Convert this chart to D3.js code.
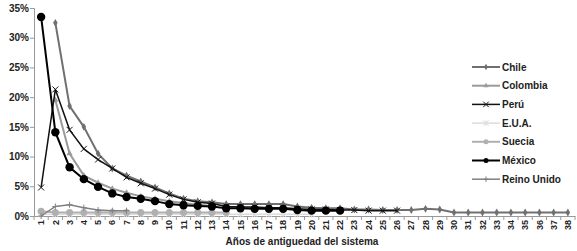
<!DOCTYPE html>
<html>
<head>
<meta charset="utf-8">
<script src="https://cdn.jsdelivr.net/npm/d3@7"></script>
<style>
body { margin: 0; background: #fff; }
text { font-family: Arial, "Liberation Sans", sans-serif; font-weight: bold; }
</style>
</head>
<body>
<script>
var svgWidth = 577;
var svgHeight = 251;

// categorie asse x
var years = d3.range(1, 39);
var yTicks = [0, 5, 10, 15, 20, 25, 30, 35];

// serie (valori in %, indice 0 = anno 1; null = nessun dato)
var chile = [null, 32.5, 18.5, 15.0, 10.5, 8.0, 6.8, 5.8, 4.8, 3.8, 2.9, 2.5, 2.3, 2.0, 2.0, 2.0, 2.0, 2.0, 1.6, 1.4,
  1.3, 1.3, 1.1, 1.1, 1.0, 1.0, 1.0, 1.2, 1.1, 0.6, 0.6, 0.6, 0.6, 0.6, 0.6, 0.6, 0.6, 0.6];
var colombia = [null, 19.5, 10.5, 6.8, 5.6, 4.6, 3.9, 3.3, 2.9, 2.5, 2.2, 1.9, 1.7];
var peru = [4.8, 21.3, 14.5, 11.3, 9.5, 8.0, 6.5, 5.5, 4.6, 3.6, 2.8, 2.3, 2.1, 1.6, 1.5, 1.5, 1.4, 1.4, 1.2, 1.1,
  1.1, 1.0, 1.0, 0.9, 0.9, 0.9];
var eua = [0.3, 0.3, 0.3, 0.3, 0.3, 0.3, 0.3, 0.3, 0.3, 0.3, 0.3, 0.3, 0.3, 0.3, 0.3, 0.3, 0.3, 0.3, 0.3, 0.3];
var suecia = [0.8, 0.6, 0.6, 0.6, 0.6, 0.6, 0.6, 0.6, 0.6, 0.6, 0.6, 0.6, 0.6, 0.6];
var mexico = [33.5, 14.1, 8.2, 6.2, 4.9, 3.8, 3.2, 2.9, 2.5, 2.0, 1.8, 1.7, 1.6, 1.3, 1.3, 1.2, 1.2, 1.2, 1.0, 0.9,
  0.9, 0.9];
var reinoUnido = [0, 1.6, 1.9, 1.4, 1.0, 0.9, 0.9];

var seriesNames = ["Chile", "Colombia", "Perú", "E.U.A.", "Suecia", "México", "Reino Unido"];
var seriesValues = [chile, colombia, peru, eua, suecia, mexico, reinoUnido];

// stili
var styles = [
  { color: "#707070", width: 2, marker: "diamond", size: 18 },
  { color: "#9a9a9a", width: 2, marker: "triangle", size: 16 },
  { color: "#111111", width: 1.5, marker: "x", size: 4 },
  { color: "#dcdcdc", width: 1.5, marker: "asterisk", size: 4 },
  { color: "#b0b0b0", width: 2, marker: "circle", size: 3.5 },
  { color: "#000000", width: 2, marker: "circle", size: 4.2 },
  { color: "#808080", width: 1.5, marker: "plus", size: 4 }
];

var svg = d3.select("body").append("svg").attr("width", svgWidth).attr("height", svgHeight);

var x = d3.scaleBand().domain(years).range([34, 575]);
var y = d3.scaleLinear().domain([0, 35]).range([216, 8]);

function cx(i) { return x(years[i]) + x.bandwidth() / 2; }

// asse y
var yAxis = svg.append("g").attr("transform", "translate(34,0)")
  .call(d3.axisLeft(y).tickValues(yTicks).tickSize(4).tickFormat(function(d) { return d + "%"; }));
yAxis.select(".domain").attr("stroke", "#999");
yAxis.selectAll(".tick line").attr("stroke", "#999");
yAxis.selectAll(".tick text").attr("font-size", 10).attr("fill", "#222").attr("x", -5);

// asse x
var xAxis = svg.append("g").attr("transform", "translate(0,216)")
  .call(d3.axisBottom(x).tickSize(0).tickSizeOuter(0));
xAxis.select(".domain").attr("stroke", "#999");
xAxis.selectAll(".tick text")
  .attr("font-size", 9).attr("fill", "#222")
  .attr("transform", "rotate(-90)")
  .attr("text-anchor", "end")
  .attr("x", -4).attr("y", 0).attr("dy", "0.35em");
xAxis.selectAll(".sep").data(years.concat([39])).join("line")
  .attr("class", "sep")
  .attr("x1", function(d) { return d === 39 ? 575 : x(d); })
  .attr("x2", function(d) { return d === 39 ? 575 : x(d); })
  .attr("y1", 0).attr("y2", 4)
  .attr("stroke", "#999");

svg.append("text")
  .attr("x", 302).attr("y", 245)
  .attr("text-anchor", "middle")
  .attr("font-size", 10).attr("fill", "#222")
  .text("Años de antiguedad del sistema");

function drawMarker(g, st, px, py) {
  if (st.marker === "circle") {
    g.append("circle").attr("cx", px).attr("cy", py).attr("r", st.size).attr("fill", st.color);
  } else if (st.marker === "diamond") {
    g.append("path").attr("d", d3.symbol(d3.symbolDiamond, st.size)()).attr("transform", "translate(" + px + "," + py + ")").attr("fill", st.color);
  } else if (st.marker === "triangle") {
    g.append("path").attr("d", d3.symbol(d3.symbolTriangle, st.size)()).attr("transform", "translate(" + px + "," + py + ")").attr("fill", st.color);
  } else {
    var s = st.size / 2 + 1;
    var segs = [];
    if (st.marker === "x" || st.marker === "asterisk") segs.push([-s, -s, s, s], [-s, s, s, -s]);
    if (st.marker === "plus" || st.marker === "asterisk") segs.push([0, -s, 0, s]);
    if (st.marker === "plus") segs.push([-s, 0, s, 0]);
    segs.forEach(function(a) {
      g.append("line")
        .attr("x1", px + a[0]).attr("y1", py + a[1]).attr("x2", px + a[2]).attr("y2", py + a[3])
        .attr("stroke", st.color).attr("stroke-width", 1);
    });
  }
}

var line = d3.line()
  .defined(function(d) { return d.v !== null; })
  .x(function(d) { return cx(d.i); })
  .y(function(d) { return y(d.v); });

// disegno dal basso verso l'alto
var order = [3, 4, 6, 1, 0, 2, 5];
order.forEach(function(k) {
  var st = styles[k];
  var pts = seriesValues[k].map(function(v, i) { return { i: i, v: v }; });
  var g = svg.append("g").attr("class", "series");
  g.append("path").datum(pts)
    .attr("d", line)
    .attr("fill", "none")
    .attr("stroke", st.color)
    .attr("stroke-width", st.width);
  pts.filter(function(d) { return d.v !== null; }).forEach(function(d) {
    drawMarker(g, st, cx(d.i), y(d.v));
  });
});

// legenda
var legend = svg.append("g");
seriesNames.forEach(function(name, k) {
  var st = styles[k];
  var ly = 67 + k * 18.7;
  legend.append("line")
    .attr("x1", 472).attr("x2", 500).attr("y1", ly).attr("y2", ly)
    .attr("stroke", st.color).attr("stroke-width", st.width);
  var ms = Object.assign({}, st);
  if (st.marker === "circle") ms.size = 2.5;
  else if (st.marker === "diamond" || st.marker === "triangle") ms.size = 12;
  else ms.size = 3.5;
  drawMarker(legend, ms, 486, ly);
  legend.append("text")
    .attr("x", 502).attr("y", ly).attr("dy", "0.35em")
    .attr("font-size", 10).attr("fill", "#222")
    .text(name);
});
</script>
</body>
</html>
